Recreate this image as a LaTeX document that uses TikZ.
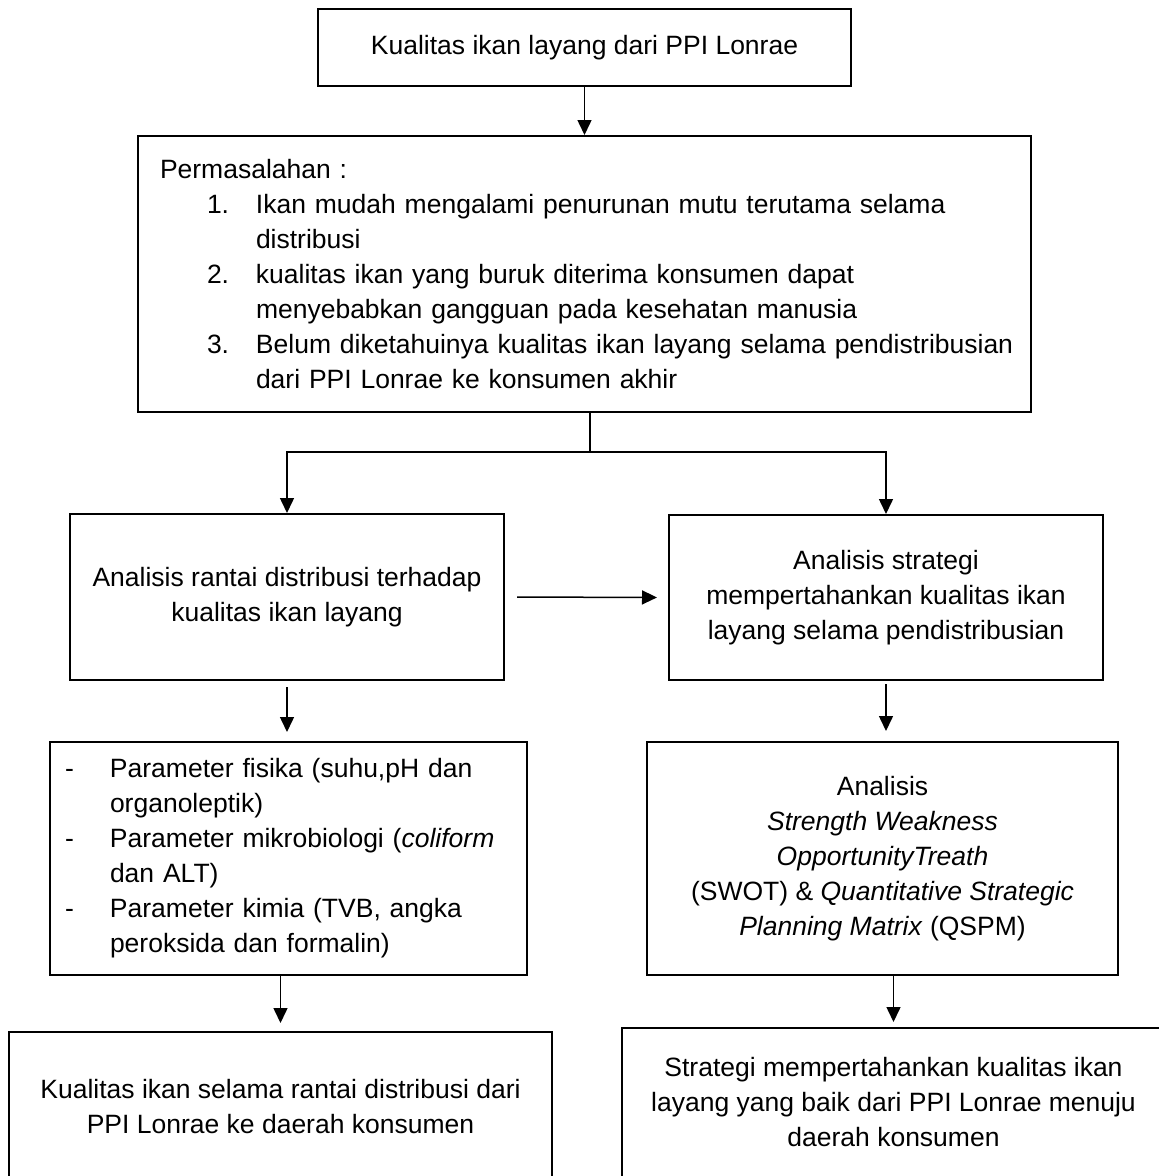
\documentclass[tikz,border=0pt]{standalone}
\usepackage{fontspec}
\setmainfont{Liberation Sans}
\usepackage{tikz}
\usetikzlibrary{arrows.meta}

\newcommand{\nomor}[2]{\hspace*{47pt}\makebox[49pt][l]{#1}\mbox{#2}}
\newcommand{\lanjut}[1]{\hspace*{96pt}\mbox{#1}}
\newcommand{\butir}{\makebox[45pt][l]{-}}
\newcommand{\sambung}{\hspace*{45pt}}

\begin{document}
\begin{tikzpicture}[x=1pt, y=-1pt,
  kotak/.style={draw, line width=2pt, inner sep=0pt, align=center,
    font=\fontsize{26.5}{35}\selectfont},
  panah/.style={line width=1.5pt, -{Triangle[length=15pt, width=14pt]}}]
  \useasboundingbox (0,0) rectangle (1159,1176);

  % ===== Atas =====
  \node[kotak, minimum width=533pt, minimum height=77pt] (judul) at (584.5,47.5)
    {Kualitas ikan layang dari PPI Lonrae};
  \node[kotak, align=left, text width=849pt, inner xsep=22pt, minimum height=276pt] (masalah) at (584.5,274)
    {Permasalahan :\\
     \nomor{1.}{Ikan mudah mengalami penurunan mutu terutama selama}\\
     \lanjut{distribusi}\\
     \nomor{2.}{kualitas ikan yang buruk diterima konsumen dapat}\\
     \lanjut{menyebabkan gangguan pada kesehatan manusia}\\
     \nomor{3.}{Belum diketahuinya kualitas ikan layang selama pendistribusian}\\
     \lanjut{dari PPI Lonrae ke konsumen akhir}};

  % ===== Analisis =====
  \node[kotak, minimum width=434pt, minimum height=166pt] (rantai) at (287,597)
    {Analisis rantai distribusi terhadap\\kualitas ikan layang};
  \node[kotak, minimum width=434pt, minimum height=165pt] (strategi) at (886,597.5)
    {Analisis strategi\\mempertahankan kualitas ikan\\layang selama pendistribusian};

  % ===== Metode =====
  \node[kotak, align=left, text width=447pt, inner xsep=15pt, minimum height=233pt] (parameter) at (288.5,858.5)
    {\butir Parameter fisika (suhu,pH dan\\
     \sambung organoleptik)\\
     \butir Parameter mikrobiologi (\textit{coliform}\\
     \sambung dan ALT)\\
     \butir Parameter kimia (TVB, angka\\
     \sambung peroksida dan formalin)};
  \node[kotak, minimum width=471pt, minimum height=233pt] (swot) at (882.5,858.5)
    {Analisis\\
     \textit{Strength Weakness}\\
     \textit{OpportunityTreath}\\
     (SWOT) \& \textit{Quantitative Strategic}\\
     \textit{Planning Matrix} (QSPM)};

  % ===== Hasil =====
  \node[kotak, minimum width=543pt, minimum height=150pt] (hasilmutu) at (280.5,1107)
    {Kualitas ikan selama rantai distribusi dari\\PPI Lonrae ke daerah konsumen};
  \node[kotak, minimum width=543pt, minimum height=149pt] (hasilstrategi) at (893.5,1102.5)
    {Strategi mempertahankan kualitas ikan\\layang yang baik dari PPI Lonrae menuju\\daerah konsumen};

  % Panah
  \coordinate (cabang) at (590,452);
  \draw[panah] (judul.south) -- (masalah.north);
  \draw[line width=1.5pt] (masalah.south -| cabang) -- (cabang);
  \draw[panah] (cabang) -| (rantai.north);
  \draw[panah] (cabang) -| (strategi.north);
  \draw[panah, shorten <=12pt, shorten >=11pt] (rantai.east) -- (strategi.west);
  \draw[panah, shorten <=6pt, shorten >=9pt] (rantai.south) -- (rantai.south |- parameter.north);
  \draw[panah, shorten <=3pt, shorten >=10pt] (strategi.south) -- (strategi.south |- swot.north);
  \draw[panah, shorten >=8pt] (parameter.south -| hasilmutu.north) -- (hasilmutu.north);
  \draw[panah, shorten >=5pt] (swot.south -| hasilstrategi.north) -- (hasilstrategi.north);
\end{tikzpicture}
\end{document}
